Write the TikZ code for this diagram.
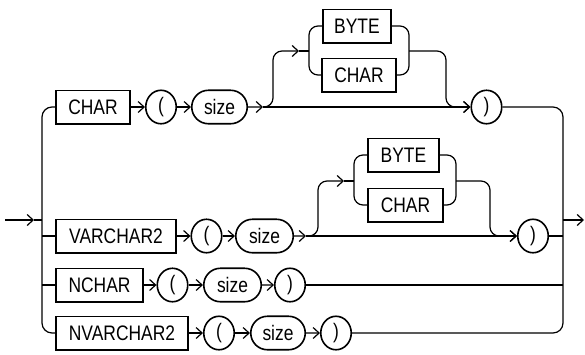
\documentclass[tikz,border=0pt]{standalone}
\usepackage{fontspec}
\setmainfont{Liberation Sans}[FakeStretch=0.83]
\usepackage{tikz}
\usetikzlibrary{
	shapes.geometric,
	shapes.misc,
	arrows.meta
}

\begin{document}
\begin{tikzpicture}[x=1pt,y=-1pt,line width=1.2pt,
		>={Straight Barb[length=6pt,width=11pt]},
		every node/.style={font=\fontsize{21}{24}\selectfont,inner sep=0pt,line width=1.6pt},
		kw/.style={draw,rectangle,minimum height=33.4pt},
		sym/.style={draw,ellipse,minimum width=30.5pt,minimum height=33.5pt},
		var/.style={draw,rounded rectangle,minimum height=33.5pt}
	]
		\useasboundingbox (0,0) rectangle (585,354);

		\coordinate (in)     at (5,220);
		\coordinate (inTip)  at (34,220);
		\coordinate (jL)     at (42,220);
		\coordinate (jR)     at (563,220);
		\coordinate (out)    at (584,220);
		\coordinate (splitA) at (263,107);
		\coordinate (upA)    at (273,51);
		\coordinate (inA)    at (299,51);
		\coordinate (lbA)    at (309,51);
		\coordinate (rbA)    at (409,51);
		\coordinate (downA)  at (446,107);
		\coordinate (splitB) at (306,236);
		\coordinate (upB)    at (318,181);
		\coordinate (inB)    at (344,181);
		\coordinate (lbB)    at (354,181);
		\coordinate (rbB)    at (456,181);
		\coordinate (downB)  at (490,236);

		\draw
			node [kw,minimum width=74.4pt]  (kwChar)     at (93,107)    {CHAR}
			node [sym]                      (lpA)        at (161,107)   {(}
			node [var,minimum width=55.5pt] (sizeA)      at (219.5,107) {size}
			node [kw,minimum width=68.4pt]  (byteA)      at (357,26)    {BYTE}
			node [kw,minimum width=74.4pt]  (charA)      at (359,75)    {CHAR}
			node [sym]                      (rpA)        at (486.5,107) {)}

			node [kw,minimum width=120.4pt] (kwVarchar)  at (116,236)   {VARCHAR2}
			node [sym]                      (lpB)        at (206.5,236) {(}
			node [var,minimum width=57.5pt] (sizeB)      at (264.5,236) {size}
			node [kw,minimum width=71.4pt]  (byteB)      at (403.5,155) {BYTE}
			node [kw,minimum width=75.4pt]  (charB)      at (405.5,205) {CHAR}
			node [sym]                      (rpB)        at (533,236)   {)}

			node [kw,minimum width=87.4pt]  (kwNchar)    at (99.5,285)  {NCHAR}
			node [sym]                      (lpC)        at (172.5,285) {(}
			node [var,minimum width=57.5pt] (sizeC)      at (232.5,285) {size}
			node [sym]                      (rpC)        at (290,285)   {)}

			node [kw,minimum width=132.4pt] (kwNvarchar) at (122,333)   {NVARCHAR2}
			node [sym]                      (lpD)        at (219,333)   {(}
			node [var,minimum width=54.5pt] (sizeD)      at (278,333)   {size}
			node [sym]                      (rpD)        at (336,333)   {)}

			(kwChar) edge [->] (lpA)
			(lpA) edge [->] (sizeA)
			(sizeA) edge [->] (splitA)
			(splitA) edge [->] (rpA)

			(kwVarchar) edge [->] (lpB)
			(lpB) edge [->] (sizeB)
			(sizeB) edge [->] (splitB)
			(splitB) edge [->] (rpB)

			(kwNchar) edge [->] (lpC)
			(lpC) edge [->] (sizeC)
			(sizeC) edge [->] (rpC)

			(kwNvarchar) edge [->] (lpD)
			(lpD) edge [->] (sizeD)
			(sizeD) edge [->] (rpD)
		;

		% optional BYTE | CHAR
		\draw [->,rounded corners=9pt] (splitA) -| (upA) -- (inA);
		\draw (inA) -- (lbA);
		\draw [rounded corners=9pt] (byteA.west) -| (lbA) |- (charA.west);
		\draw [rounded corners=9pt] (byteA.east) -| (rbA) |- (charA.east);
		\draw [->,rounded corners=9pt] (rbA) -| (downA) -- (rpA);

		\draw [->,rounded corners=9pt] (splitB) -| (upB) -- (inB);
		\draw (inB) -- (lbB);
		\draw [rounded corners=9pt] (byteB.west) -| (lbB) |- (charB.west);
		\draw [rounded corners=9pt] (byteB.east) -| (rbB) |- (charB.east);
		\draw [->,rounded corners=9pt] (rbB) -| (downB) -- (rpB);

		% choice rails
		\draw [->] (in) -- (inTip);
		\draw (inTip) -- (jL);
		\draw [rounded corners=10pt] (kwChar.west) -| (jL) |- (kwNvarchar.west);
		\draw (jL |- kwVarchar) -- (kwVarchar);
		\draw (jL |- kwNchar) -- (kwNchar);
		\draw [rounded corners=10pt] (rpA.east) -| (jR) |- (rpD.east);
		\draw (rpB) -- (rpB -| jR);
		\draw (rpC) -- (rpC -| jR);
		\draw [->] (jR) -- (out);
\end{tikzpicture}
\end{document}
